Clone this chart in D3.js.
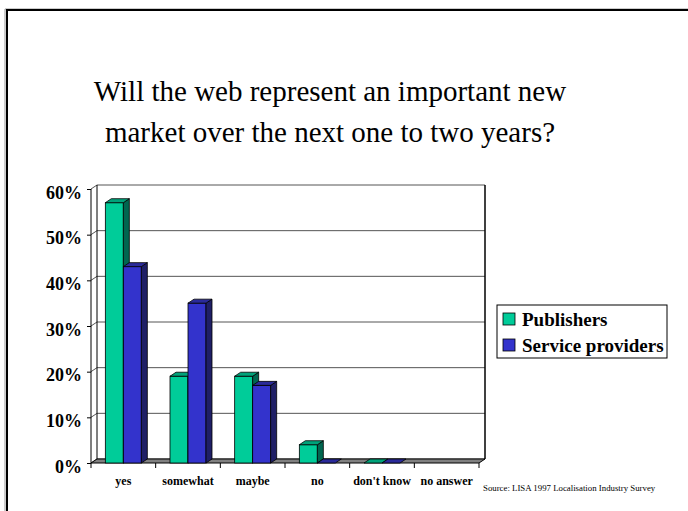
<!DOCTYPE html>
<html><head><meta charset="utf-8">
<script src="https://cdn.jsdelivr.net/npm/d3@7"></script>
<style>body{margin:0;background:#fff}svg{display:block}</style>
</head><body>
<svg id="c" width="688" height="511"></svg>
<script>
const categories = ["yes", "somewhat", "maybe", "no", "don't know", "no answer"];
const seriesNames = ["Publishers", "Service providers"];
const publishers = [0.57, 0.19, 0.19, 0.04, 0, null];
const serviceProviders = [0.43, 0.35, 0.17, 0, 0, null];
const yTicks = [0, 0.1, 0.2, 0.3, 0.4, 0.5, 0.6];
const titleLines = ["Will the web represent an important new", "market over the next one to two years?"];
const sourceText = "Source: LISA 1997 Localisation Industry Survey";

const colors = {
  "Publishers": {front: "#00CC99", side: "#006650", top: "#00A27A"},
  "Service providers": {front: "#3333CC", side: "#1F1F66", top: "#2A2A99"}
};
const serif = "'Liberation Serif','Times New Roman',serif";
const svg = d3.select("#c");

// slide border
svg.append("path").attr("d", "M5,511V9H688").attr("fill", "none").attr("stroke", "#999").attr("stroke-width", 1);
svg.append("path").attr("d", "M7,511V10H688").attr("fill", "none").attr("stroke", "#000").attr("stroke-width", 2);

// title
svg.append("text").attr("x", 330).attr("y", 101).attr("text-anchor", "middle")
  .attr("font-family", serif).attr("font-size", 29).attr("fill", "#000")
  .selectAll("tspan").data(titleLines).join("tspan")
  .attr("x", 330).attr("dy", (d, i) => i ? 41 : 0).text(d => d);

const DX = 6, DY = 4;
const x0 = d3.scaleBand().domain(categories).range([91, 479]);
const x1 = d3.scaleBand().domain(seriesNames).range([0, 36]);
const y = d3.scaleLinear().domain([0, 0.6]).range([463, 189]);
const y0 = y(0);

const g = svg.append("g");
// back wall
g.append("rect").attr("x", 91 + DX).attr("y", y(0.6) - DY).attr("width", 479 - 91).attr("height", y0 - y(0.6))
  .attr("fill", "#fff").attr("stroke", "none");
// gridlines (left wall + back wall)
g.selectAll("path.grid").data(yTicks).join("path").attr("class", "grid")
  .attr("d", d => `M91,${y(d)}L${91 + DX},${y(d) - DY}H${479 + DX}`)
  .attr("fill", "none").attr("stroke", "#555").attr("stroke-width", 1);
// back wall left & right edges
g.append("line").attr("x1", 91 + DX).attr("x2", 91 + DX).attr("y1", y(0.6) - DY).attr("y2", y0 - DY).attr("stroke", "#000");
g.append("line").attr("x1", 479 + DX).attr("x2", 479 + DX).attr("y1", y(0.6) - DY).attr("y2", y0 - DY).attr("stroke", "#000").attr("stroke-width", 1.5);
// floor
g.append("path").attr("d", `M91,${y0}H479L${479 + DX},${y0 - DY}H${91 + DX}Z`)
  .attr("fill", "#808080").attr("stroke", "#000").attr("stroke-width", 1);

// y axis (front)
const yAxis = g.append("g").attr("transform", "translate(91,0)")
  .call(d3.axisLeft(y).tickValues(yTicks).tickFormat(d3.format(".0%")).tickSize(4).tickPadding(5));
yAxis.select(".domain").attr("stroke", "#000").attr("d", `M0,${y(0.6)}V${y0}`);
yAxis.selectAll("text").attr("font-family", serif).attr("font-size", 18).attr("font-weight", "bold")
  .attr("fill", "#000").attr("dy", "0.5em");

// x axis
const xAxis = g.append("g").attr("transform", `translate(0,${y0})`)
  .call(d3.axisBottom(x0).tickSize(0).tickPadding(13));
xAxis.select(".domain").remove();
xAxis.selectAll("text").attr("font-family", serif).attr("font-size", 12).attr("font-weight", "bold").attr("fill", "#000");
const bounds = categories.map(c => x0(c)).concat([x0.range()[1]]);
g.selectAll("line.xt").data(bounds).join("line").attr("class", "xt")
  .attr("x1", d => d).attr("x2", d => d).attr("y1", y0).attr("y2", y0 + 5).attr("stroke", "#000");

// bars
const barData = [];
categories.forEach((c, i) => {
  [[seriesNames[0], publishers[i]], [seriesNames[1], serviceProviders[i]]].forEach(([s, v]) => {
    if (v === null) return;
    barData.push({c, s, v});
  });
});
const bw = x1.bandwidth();
const off = (x0.bandwidth() - 36) / 2;
const bars = g.selectAll("g.bar").data(barData).join("g").attr("class", "bar");
bars.each(function(d) {
  const sel = d3.select(this);
  const xa = x0(d.c) + off + x1(d.s), xb = xa + bw, yt = y(d.v);
  const col = colors[d.s];
  if (d.v > 0) {
    sel.append("rect").attr("x", xa).attr("y", yt).attr("width", bw).attr("height", y0 - yt)
      .attr("fill", col.front).attr("stroke", "#000").attr("stroke-width", 0.8);
    sel.append("path").attr("d", `M${xb},${yt}L${xb + DX},${yt - DY}V${y0 - DY}L${xb},${y0}Z`)
      .attr("fill", col.side).attr("stroke", "#000").attr("stroke-width", 0.8);
  }
  sel.append("path").attr("d", `M${xa},${yt}L${xa + DX},${yt - DY}H${xb + DX}L${xb},${yt}Z`)
    .attr("fill", col.top).attr("stroke", "#000").attr("stroke-width", 0.8);
});

// legend
const lg = svg.append("g").attr("transform", "translate(497,305)");
lg.append("rect").attr("width", 170).attr("height", 53).attr("fill", "#fff").attr("stroke", "#000").attr("stroke-width", 1);
const li = lg.selectAll("g.li").data(seriesNames).join("g").attr("class", "li")
  .attr("transform", (d, i) => `translate(6,${8 + i * 26})`);
li.append("rect").attr("width", 12).attr("height", 12).attr("fill", d => colors[d].front).attr("stroke", "#000").attr("stroke-width", 0.8);
li.append("text").attr("x", 19).attr("y", 13).attr("font-family", serif).attr("font-size", 19).attr("font-weight", "bold")
  .attr("fill", "#000").text(d => d);

// source
svg.append("text").attr("x", 483).attr("y", 491).attr("font-family", serif).attr("font-size", 8.8).attr("fill", "#000").text(sourceText);
</script>
</body></html>
